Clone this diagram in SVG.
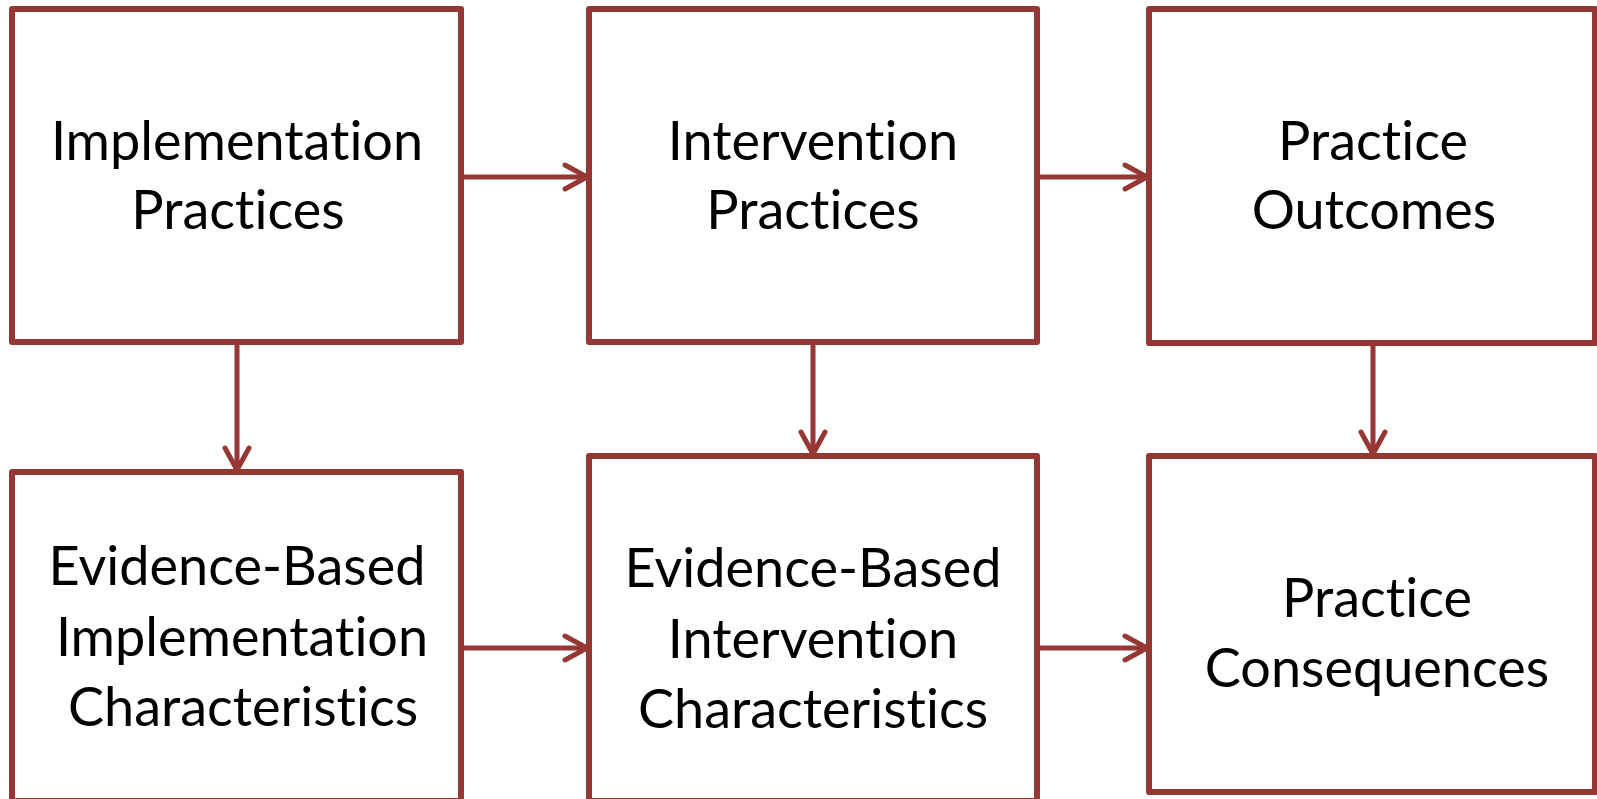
<svg xmlns="http://www.w3.org/2000/svg" width="1597" height="799" viewBox="0 0 1597 799">
<style>
.box{fill:#ffffff;stroke:#953735;stroke-width:6;stroke-linejoin:round}
.lbl{font-family:Lato,"Open Sans","Liberation Sans",sans-serif;font-size:54px;fill:#000000;text-anchor:middle;font-variant-ligatures:none;font-feature-settings:"liga" 0}
.con{fill:none;stroke:#953735;stroke-width:5;stroke-linecap:round;stroke-linejoin:round}
</style>
<defs>
<marker id="arr" markerUnits="userSpaceOnUse" markerWidth="40" markerHeight="40" viewBox="-30 -20 40 40" refX="0" refY="0" orient="auto" overflow="visible">
<path d="M-22,-12 L0,0 L-22,12" fill="none" stroke="#953735" stroke-width="5" stroke-linecap="round" stroke-linejoin="round"/>
</marker>
</defs>
<rect width="1597" height="799" fill="#ffffff"/>
<g id="n1"><rect class="box" x="12" y="9" width="449" height="333"/>
<text class="lbl" x="237" y="160">Implementation</text><text class="lbl" x="238" y="229">Practices</text></g>
<g id="n2"><rect class="box" x="589" y="9" width="448" height="333"/>
<text class="lbl" x="813" y="160">Intervention</text><text class="lbl" x="813" y="229">Practices</text></g>
<g id="n3"><rect class="box" x="1149" y="9" width="446" height="334"/>
<text class="lbl" x="1373" y="160">Practice</text><text class="lbl" x="1374" y="229">Outcomes</text></g>
<g id="n4"><rect class="box" x="12" y="472" width="449" height="329"/>
<text class="lbl" x="237" y="585">Evidence-Based</text><text class="lbl" x="242" y="656">Implementation</text><text class="lbl" x="243" y="726">Characteristics</text></g>
<g id="n5"><rect class="box" x="589" y="456" width="448" height="345"/>
<text class="lbl" x="813" y="587">Evidence-Based</text><text class="lbl" x="813" y="658">Intervention</text><text class="lbl" x="813" y="728">Characteristics</text></g>
<g id="n6"><rect class="box" x="1149" y="456" width="446" height="336"/>
<text class="lbl" x="1377" y="617">Practice</text><text class="lbl" x="1377" y="687">Consequences</text></g>
<g id="connectors">
<line class="con" x1="461" y1="177" x2="587" y2="177" marker-end="url(#arr)"/>
<line class="con" x1="1037" y1="177" x2="1147" y2="177" marker-end="url(#arr)"/>
<line class="con" x1="461" y1="648" x2="587" y2="648" marker-end="url(#arr)"/>
<line class="con" x1="1037" y1="648" x2="1147" y2="648" marker-end="url(#arr)"/>
<line class="con" x1="237" y1="342" x2="237" y2="470" marker-end="url(#arr)"/>
<line class="con" x1="813" y1="342" x2="813" y2="454" marker-end="url(#arr)"/>
<line class="con" x1="1373" y1="343" x2="1373" y2="454" marker-end="url(#arr)"/>
</g>
</svg>
